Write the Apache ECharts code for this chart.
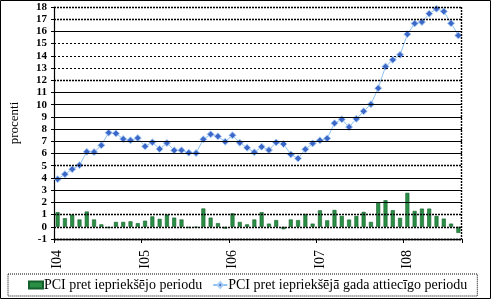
<!DOCTYPE html>
<html>
<head>
<meta charset="utf-8">
<script src="https://cdn.jsdelivr.net/npm/echarts@6/dist/echarts.min.js"></script>
<style>
html,body{margin:0;padding:0;background:#fff;}
#c{width:493px;height:301px;}
</style>
</head>
<body>
<div id="c"></div>
<script>
var romanMonths = ['I','II','III','IV','V','VI','VII','VIII','IX','X','XI','XII'];
var years = ['04','05','06','07','08'];
var categories = [];
years.forEach(function (y) { romanMonths.forEach(function (m) { categories.push(m + y); }); });
categories = categories.slice(0, 56);

var seriesNames = ['PCI pret iepriekšējo periodu', 'PCI pret iepriekšējā gada attiecīgo periodu'];

var pciMonthly = [1.2, 0.7, 1.0, 0.6, 1.25, 0.6, 0.2, -0.1, 0.4, 0.4, 0.45, 0.3,
  0.5, 0.85, 0.65, 1.0, 0.75, 0.6, -0.1, -0.05, 1.5, 0.75, 0.3, -0.15,
  1.1, 0.4, 0.2, 0.6, 1.2, 0.26, 0.55, -0.2, 0.6, 0.55, 1.05, 0.26,
  1.35, 0.53, 1.38, 0.89, 0.59, 0.89, 1.22, 0.4, 1.96, 2.18, 1.36, 0.73,
  2.78, 1.3, 1.49, 1.49, 0.89, 0.67, 0.26, -0.5];

var pciAnnual = [3.9, 4.31, 4.72, 5.05, 6.14, 6.12, 6.67, 7.71, 7.65, 7.19, 7.08, 7.27,
  6.59, 6.92, 6.37, 6.86, 6.26, 6.26, 6.07, 6.04, 7.16, 7.57, 7.41, 6.97,
  7.49, 6.88, 6.47, 6.1, 6.55, 6.28, 6.91, 6.78, 5.93, 5.6, 6.34, 6.83,
  7.08, 7.24, 8.48, 8.8, 8.17, 8.84, 9.46, 10.04, 11.35, 13.12, 13.67, 14.08,
  15.77, 16.65, 16.77, 17.45, 17.86, 17.64, 16.67, 15.67];

var yTicks = [-1,0,1,2,3,4,5,6,7,8,9,10,11,12,13,14,15,16,17,18];

// gridline appearance per level (style only)
var dotted = {type: [2, 1], width: 1.4, color: '#000'};
var dashed = {type: [2, 2], width: 1, color: '#000'};
var solid = {type: 'solid', width: 1.2, color: '#000'};
var styleFor = {18: dotted, 17: dotted, 15: dashed, 14: dashed, 13: dashed, 12: dotted, 5: dotted, 1: dotted, 0: dotted, '-1': dotted};

var gridLines = yTicks.map(function (v) {
  return {yAxis: v, lineStyle: styleFor[v] || solid};
});

var FONT = 'Liberation Serif';
var chart = echarts.init(document.getElementById('c'), null, {renderer: 'canvas'});
chart.setOption({
  animation: false,
  backgroundColor: '#fff',
  grid: {left: 53, right: 31, top: 7, bottom: 62, containLabel: false},
  graphic: [{
    type: 'rect', silent: true, z: 100,
    shape: {x: 0.5, y: 0.5, width: 490, height: 298},
    style: {fill: 'none', stroke: '#000', lineWidth: 1}
  }, {
    type: 'line', silent: true, z: 100,
    shape: {x1: 461.5, y1: 7, x2: 461.5, y2: 239},
    style: {stroke: '#000', lineWidth: 1.4, lineDash: [2, 1]}
  }],
  legend: {
    left: 8, top: 274,
    padding: [4, 10, 4, 20],
    itemGap: 10, itemWidth: 14, itemHeight: 7,
    borderColor: '#000', borderWidth: 1, borderType: [1, 1],
    textStyle: {fontFamily: FONT, fontSize: 14, color: '#000', padding: [0, 0, 0, -4]},
    data: [
      {name: seriesNames[0], icon: 'rect', itemStyle: {color: '#2a8f45'}},
      {name: seriesNames[1]}
    ]
  },
  xAxis: [{
    type: 'category', data: categories, position: 'bottom',
    boundaryGap: true,
    axisLine: {show: false}, axisTick: {show: false},
    axisLabel: {
      rotate: 90, margin: 11, fontFamily: FONT, fontSize: 14, color: '#000',
      interval: function (i) { return i % 12 === 0; }
    },
    splitLine: {show: false}
  }, {
    type: 'category', data: categories, position: 'bottom',
    boundaryGap: true,
    axisLine: {show: true, onZero: true, lineStyle: {color: '#000', width: 1.4, type: [2, 1]}},
    axisTick: {show: true, length: 4, lineStyle: {color: '#000'},
      interval: function (i) { return i % 12 === 0; }},
    axisLabel: {show: false},
    splitLine: {show: false}
  }],
  yAxis: {
    type: 'value', min: -1, max: 18, interval: 1,
    name: 'procenti', nameLocation: 'middle', nameGap: 33, nameRotate: 90,
    nameTextStyle: {fontFamily: FONT, fontSize: 13, color: '#000'},
    axisLine: {show: true, lineStyle: {color: '#000', width: 1.2}},
    axisTick: {show: true, length: 3, lineStyle: {color: '#000'}},
    axisLabel: {fontFamily: FONT, fontSize: 11, fontWeight: 'bold', color: '#000', margin: 7},
    splitLine: {show: false}
  },
  series: [{
    name: 'grid', type: 'line', data: [], silent: true, z: 1,
    markLine: {silent: true, symbol: 'none', label: {show: false}, data: gridLines, animation: false}
  }, {
    name: seriesNames[0], type: 'bar', data: pciMonthly, barWidth: 4, z: 3,
    itemStyle: {color: '#2a8f45', borderColor: '#14602c', borderWidth: 0.6}
  }, {
    name: seriesNames[1], type: 'line', data: pciAnnual, z: 4,
    symbol: 'diamond', symbolSize: 7, showSymbol: true, showAllSymbol: true,
    lineStyle: {color: '#8ec3f2', width: 1},
    itemStyle: {color: '#3d68c9', borderColor: '#a9cdf3', borderWidth: 1}
  }]
});
</script>
</body>
</html>
